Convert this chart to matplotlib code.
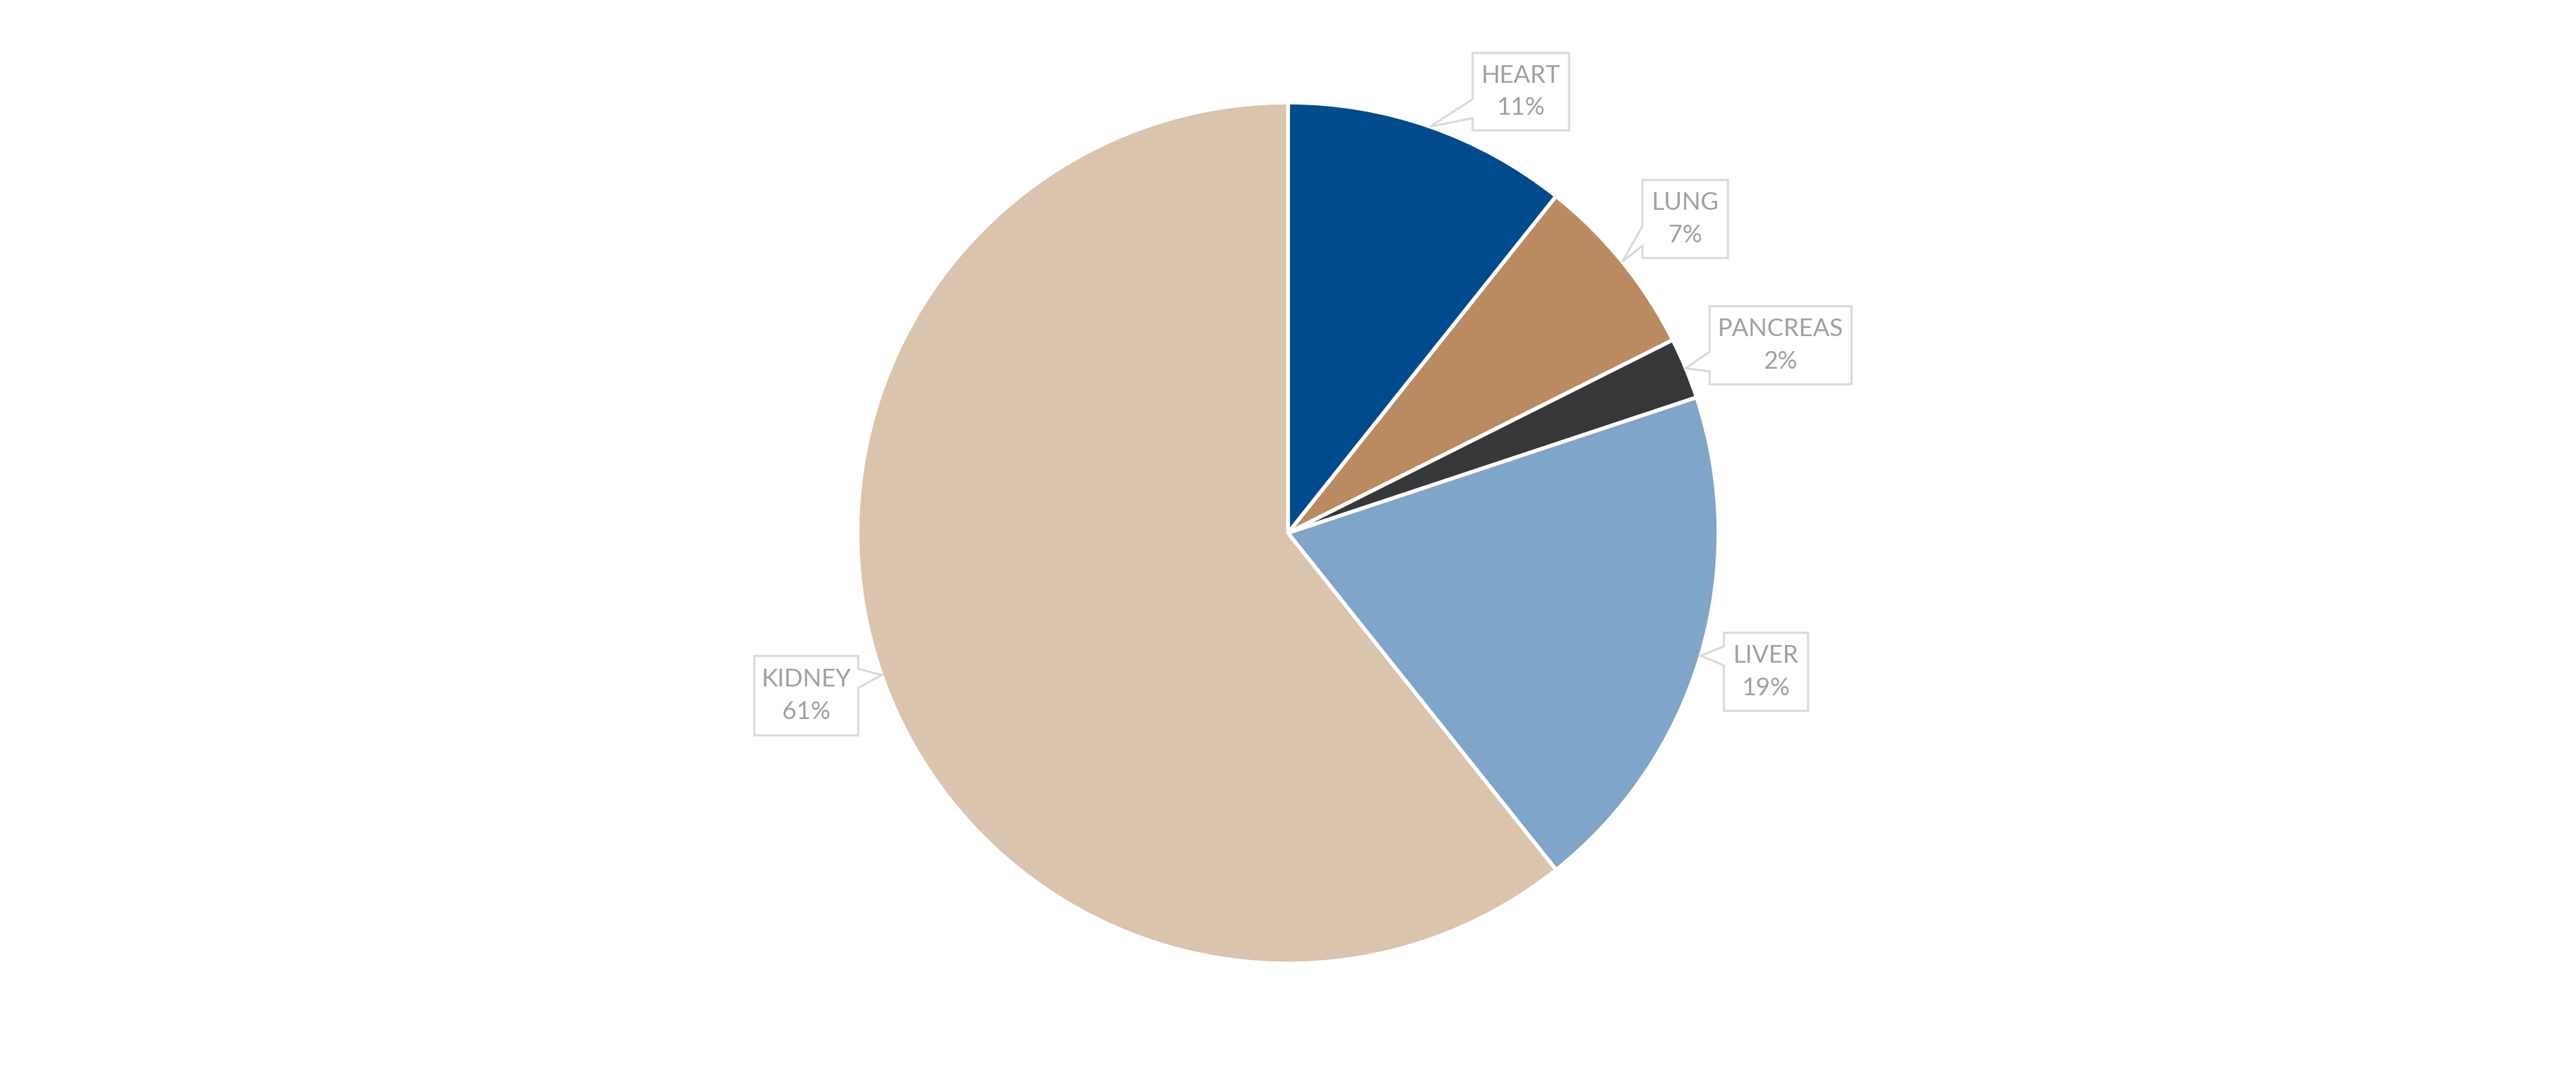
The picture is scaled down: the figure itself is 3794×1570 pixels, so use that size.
import numpy as np
import matplotlib
matplotlib.use('Agg')
import matplotlib.pyplot as plt
from matplotlib.patches import Polygon

ORGANS = ['HEART', 'LUNG', 'PANCREAS', 'LIVER', 'KIDNEY']
SHARES = [10.7, 6.9, 2.3, 19.4, 60.7]
COLORS = ['#004B8D', '#BA8B60', '#363738', '#7FA5C8', '#DBC4AD']

W, H = 3794, 1570
CX, CY, R = 1897, H - 785, 634

# callout boxes in image pixels: left, top, right, bottom, side of pointer, pointer base y0, y1
_BOX = {
    'HEART':    (2169, 78, 2311, 192, 'left', 146, 174),
    'LUNG':     (2419, 265, 2545, 380, 'left', 333, 362),
    'PANCREAS': (2518, 451, 2727, 566, 'left', 518, 547),
    'LIVER':    (2539, 932, 2663, 1047, 'left', 952, 980),
    'KIDNEY':   (1111, 966, 1264, 1083, 'right', 985, 1013),
}

plt.rcParams['font.family'] = ['Lato', 'DejaVu Sans']

fig = plt.figure(figsize=(W / 100, H / 100), dpi=100)
ax = fig.add_axes([0, 0, 1, 1])

wedges, _ = ax.pie(SHARES, colors=COLORS, startangle=90, counterclock=False,
                   center=(CX, CY), radius=R, frame=True,
                   wedgeprops=dict(edgecolor='white', linewidth=4))
ax.set_xlim(0, W)
ax.set_ylim(0, H)
ax.set_aspect('equal')
ax.axis('off')

total = sum(SHARES)
for name, val, w in zip(ORGANS, SHARES, wedges):
    mid = np.deg2rad((w.theta1 + w.theta2) / 2)
    tx, ty = CX + R * np.cos(mid), CY + R * np.sin(mid)
    l, t, r, b, side, y0, y1 = _BOX[name]
    t, b, y0, y1 = H - t, H - b, H - y0, H - y1
    if side == 'left':
        pts = [(l, t), (r, t), (r, b), (l, b), (l, y1), (tx, ty), (l, y0)]
    else:
        pts = [(l, t), (r, t), (r, y0), (tx, ty), (r, y1), (r, b), (l, b)]
    ax.add_patch(Polygon(pts, closed=True, facecolor='white',
                         edgecolor='#D9D9D9', linewidth=2.2, zorder=4))
    ax.text((l + r) / 2, (t + b) / 2, f'{name}\n{round(val / total * 100):.0f}%',
            ha='center', va='center', fontsize=26, color='#A0A0A0',
            linespacing=1.55, zorder=5)

fig.savefig('out.png', dpi=100, facecolor='white')
